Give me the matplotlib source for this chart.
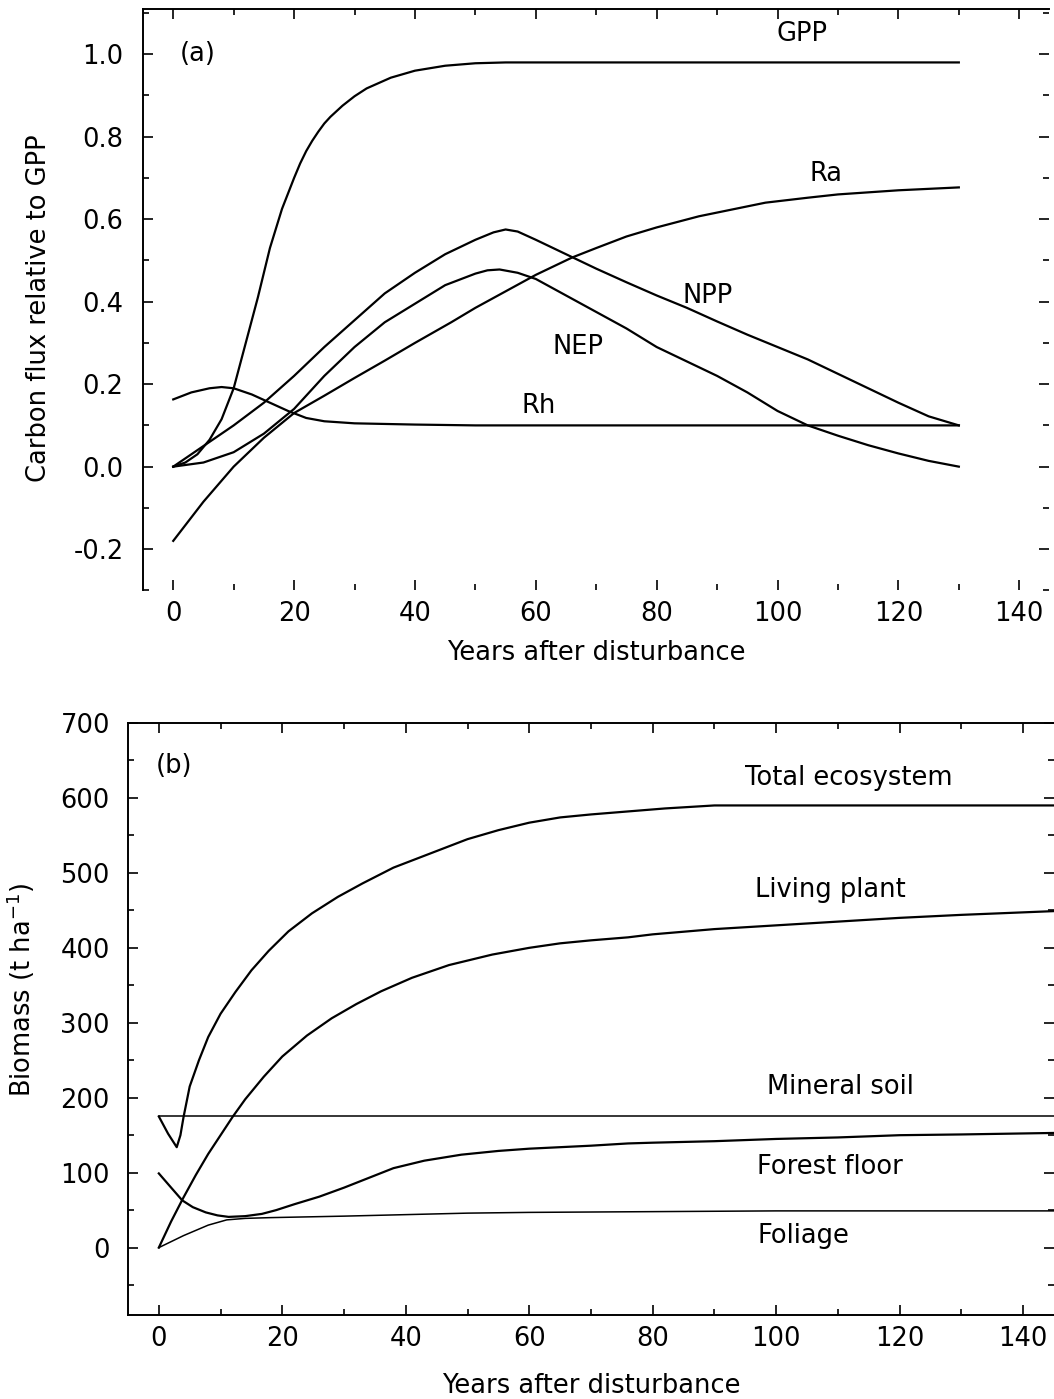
import matplotlib
matplotlib.use("Agg")
import matplotlib.pyplot as plt
from matplotlib.ticker import MultipleLocator

plt.rcParams["font.family"] = ["DejaVu Sans"]
plt.rcParams["mathtext.default"] = "regular"

### (a) carbon fluxes relative to GPP ###

gpp_x = [0, 2, 4, 6, 8, 10, 12, 14, 16, 18, 20, 21, 22, 23, 24, 25, 26, 28, 30, 32, 36, 40, 45, 50, 55, 60, 130]
gpp_y = [0, 0.01, 0.03, 0.065, 0.115, 0.19, 0.30, 0.41, 0.53, 0.625, 0.70, 0.735, 0.765, 0.79, 0.812, 0.832, 0.848, 0.875, 0.898, 0.917, 0.943, 0.96, 0.972, 0.978, 0.98, 0.98, 0.98]

npp_x = [0, 5, 10, 15, 20, 25, 30, 35, 40, 45, 50, 53, 55, 57, 60, 65, 70, 75, 80, 85, 90, 95, 100, 105, 110, 115, 120, 125, 130]
npp_y = [0, 0.05, 0.10, 0.155, 0.22, 0.29, 0.355, 0.42, 0.47, 0.515, 0.55, 0.568, 0.575, 0.57, 0.55, 0.515, 0.48, 0.447, 0.415, 0.385, 0.352, 0.32, 0.29, 0.26, 0.225, 0.19, 0.155, 0.122, 0.10]

nep_x = [0, 5, 10, 15, 20, 25, 30, 35, 40, 45, 50, 52, 54, 57, 60, 65, 70, 75, 80, 85, 90, 95, 100, 105, 110, 115, 120, 125, 130]
nep_y = [0, 0.01, 0.035, 0.08, 0.14, 0.22, 0.29, 0.35, 0.395, 0.44, 0.468, 0.476, 0.478, 0.47, 0.455, 0.415, 0.375, 0.335, 0.29, 0.255, 0.22, 0.18, 0.135, 0.10, 0.075, 0.052, 0.032, 0.014, 0.0]

ra_x = [0, 5, 10, 15, 20, 25, 30, 35, 40, 46, 50, 55, 60, 66, 70, 75, 80, 87, 93, 98, 105, 110, 120, 130]
ra_y = [-0.18, -0.085, 0.0, 0.07, 0.13, 0.172, 0.215, 0.257, 0.30, 0.35, 0.385, 0.425, 0.465, 0.507, 0.53, 0.558, 0.58, 0.607, 0.625, 0.64, 0.652, 0.66, 0.67, 0.677]

rh_x = [0, 3, 6, 8, 10, 13, 16, 19, 22, 25, 30, 40, 50, 60, 130]
rh_y = [0.163, 0.18, 0.19, 0.193, 0.19, 0.175, 0.155, 0.135, 0.118, 0.11, 0.105, 0.102, 0.10, 0.10, 0.10]

flux_labels = ["GPP", "Ra", "NPP", "NEP", "Rh"]
flux_label_x = [104, 108, 88.5, 67, 60.5]
flux_label_y = [1.048, 0.709, 0.413, 0.289, 0.146]

### (b) biomass pools ###

total_x = [0, 1.5, 2.9, 3.5, 4, 5, 6.5, 8, 10, 12.4, 15, 17.8, 21, 24.8, 29, 33, 38, 44, 50, 55, 60, 65, 70, 76, 82, 90, 145]
total_y = [175, 152, 134, 150, 174, 215, 250, 281, 312, 341, 370, 396, 422, 446, 468, 486, 507, 526, 545, 557, 567, 574, 578, 582, 586, 590, 590]

living_x = [0, 2, 4, 6, 8, 10, 12, 14, 17, 20, 24, 28, 32, 36, 41, 47, 54, 60, 65, 70, 76, 80, 90, 100, 110, 120, 130, 145]
living_y = [0, 35, 67, 97, 125, 150, 175, 198, 228, 255, 283, 306, 325, 342, 360, 377, 391, 400, 406, 410, 414, 418, 425, 430, 435, 440, 444, 449]

mineral_x = [0, 145]
mineral_y = [175, 175]

floor_x = [0, 2, 3.8, 5.5, 7.6, 9.5, 11.3, 14, 16.7, 19, 22, 26, 30, 34, 38, 43, 49, 55, 60, 70, 76, 80, 90, 100, 110, 120, 130, 145]
floor_y = [99, 80, 63, 54, 47, 43, 41, 42, 45, 50, 58, 68, 80, 93, 106, 116, 124, 129, 132, 136, 139, 140, 142, 145, 147, 150, 151, 153]

foliage_x = [0, 4, 8, 11, 14, 18, 30, 40, 50, 60, 80, 100, 145]
foliage_y = [0, 16, 30, 37, 39, 40, 42, 44, 46, 47, 48, 49, 49]

pool_labels = ["Total ecosystem", "Living plant", "Mineral soil", "Forest floor", "Foliage"]
pool_label_x = [111.7, 108.7, 110.4, 108.7, 104.4]
pool_label_y = [627, 477, 214, 107, 16]

fig = plt.figure(figsize=(10.54, 13.99), dpi=100)
ax1 = fig.add_axes([0.1357, 0.578, 0.86, 0.4157])
ax2 = fig.add_axes([0.1214, 0.06, 0.8786, 0.4232])

fs = 18.5
lw = 1.6
ax1.plot(gpp_x, gpp_y, color="black", lw=lw)
ax1.plot(npp_x, npp_y, color="black", lw=lw)
ax1.plot(nep_x, nep_y, color="black", lw=lw)
ax1.plot(ra_x, ra_y, color="black", lw=lw)
ax1.plot(rh_x, rh_y, color="black", lw=lw)
for lab, x, y in zip(flux_labels, flux_label_x, flux_label_y):
    ax1.text(x, y, lab, ha="center", va="center", fontsize=fs)
ax1.text(1, 1.0, "(a)", ha="left", va="center", fontsize=fs)

ax1.set_xlim(-5, 145)
ax1.set_ylim(-0.3, 1.11)
ax1.xaxis.set_major_locator(MultipleLocator(20))
ax1.xaxis.set_minor_locator(MultipleLocator(10))
ax1.yaxis.set_minor_locator(MultipleLocator(0.1))
ax1.set_yticks([-0.2, 0.0, 0.2, 0.4, 0.6, 0.8, 1.0])
ax1.set_yticklabels(["-0.2", "0.0", "0.2", "0.4", "0.6", "0.8", "1.0"])
ax1.spines["bottom"].set_visible(False)
ax1.spines["right"].set_visible(False)
ax1.tick_params(axis="y", pad=14)
ax1.set_xlabel("Years after disturbance", fontsize=fs)
ax1.set_ylabel("Carbon flux relative to GPP", fontsize=fs)
ax1.xaxis.set_label_coords(0.5, -0.085)
ax1.yaxis.set_label_coords(-0.1, 0.485)

ax2.plot(total_x, total_y, color="black", lw=lw)
ax2.plot(living_x, living_y, color="black", lw=lw)
ax2.plot(mineral_x, mineral_y, color="black", lw=1.1)
ax2.plot(floor_x, floor_y, color="black", lw=lw)
ax2.plot(foliage_x, foliage_y, color="black", lw=1.1)
for lab, x, y in zip(pool_labels, pool_label_x, pool_label_y):
    ax2.text(x, y, lab, ha="center", va="center", fontsize=fs)
ax2.text(-0.5, 642, "(b)", ha="left", va="center", fontsize=fs)

ax2.set_xlim(-5, 145)
ax2.set_ylim(-90, 700)
ax2.xaxis.set_major_locator(MultipleLocator(20))
ax2.xaxis.set_minor_locator(MultipleLocator(10))
ax2.yaxis.set_major_locator(MultipleLocator(100))
ax2.yaxis.set_minor_locator(MultipleLocator(50))
ax2.spines["right"].set_visible(False)
ax2.tick_params(axis="y", pad=13)
ax2.set_xlabel("Years after disturbance", fontsize=fs)
ax2.set_ylabel("Biomass (t ha$^{-1}$)", fontsize=fs)
ax2.xaxis.set_label_coords(0.5, -0.098)
ax2.yaxis.set_label_coords(-0.098, 0.55)

for ax in (ax1, ax2):
    for s in ax.spines.values():
        s.set_linewidth(1.4)
    ax.tick_params(which="both", direction="in", top=True, right=True, labelsize=fs, width=1.2)
    ax.tick_params(which="major", length=7)
    ax.tick_params(which="minor", length=4)
    ax.tick_params(axis="x", pad=8)

fig.savefig("out.png", dpi=100)
